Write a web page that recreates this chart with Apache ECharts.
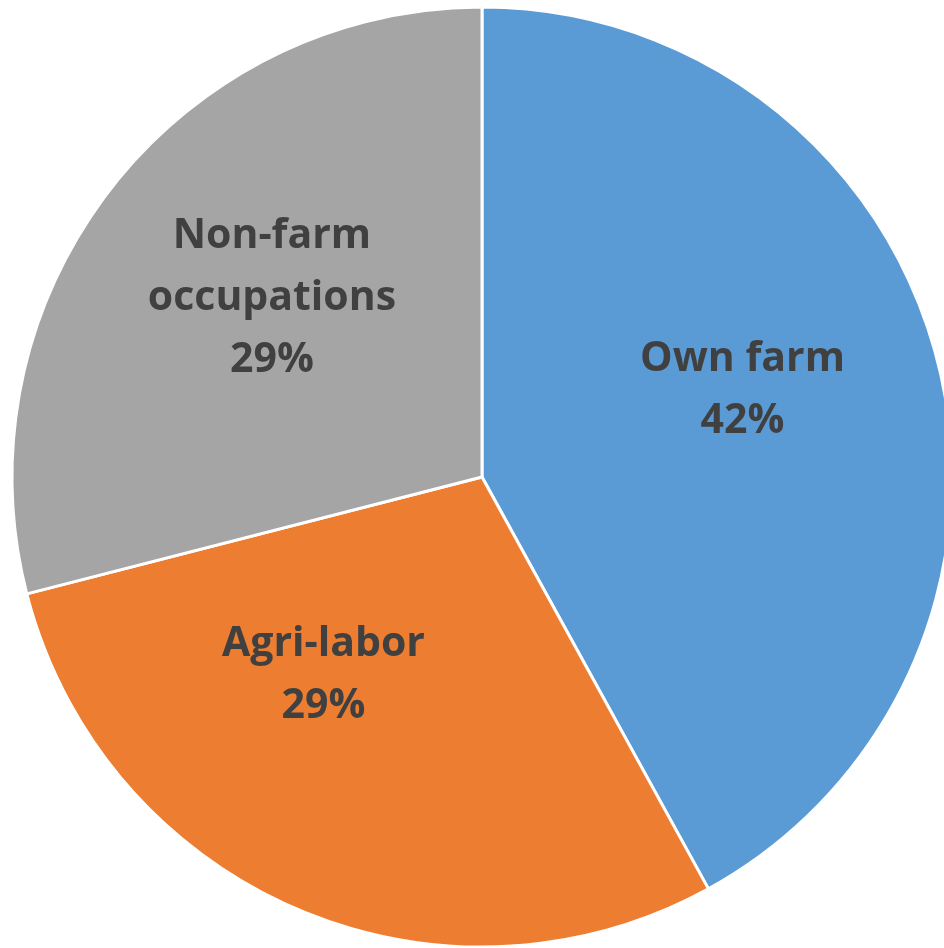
<!DOCTYPE html>
<html>
<head>
<meta charset="utf-8">
<script src="https://cdn.jsdelivr.net/npm/echarts@6/dist/echarts.min.js"></script>
<style>html,body{margin:0;padding:0;background:#fff;}#c{width:944px;height:948px;}</style>
</head>
<body>
<div id="c"></div>
<script>
const categories = ['Own farm', 'Agri-labor', 'Non-farm\noccupations'];
const values = [42, 29, 29];
const colors = ['#5B9BD5', '#ED7D31', '#A5A5A5'];
const labelShift = [[30, -27], [-64, -20], [-22, -33]];

const chart = echarts.init(document.getElementById('c'), null, {renderer: 'canvas'});
chart.setOption({
  animation: false,
  series: [{
    type: 'pie',
    center: [482, 477],
    radius: [0, 470],
    startAngle: 90,
    clockwise: true,
    data: categories.map((c, i) => ({name: c, value: values[i], itemStyle: {color: colors[i]}})),
    itemStyle: {borderColor: '#ffffff', borderWidth: 3},
    label: {
      show: true,
      position: 'inside',
      formatter: p => p.name + '\n' + p.value + '%',
      fontFamily: 'Open Sans',
      fontWeight: 'bold',
      fontSize: 41,
      lineHeight: 62,
      color: '#404040'
    },
    labelLine: {show: false},
    labelLayout: p => ({dx: labelShift[p.dataIndex][0], dy: labelShift[p.dataIndex][1]}),
    emphasis: {disabled: true}
  }]
});
</script>
</body>
</html>
